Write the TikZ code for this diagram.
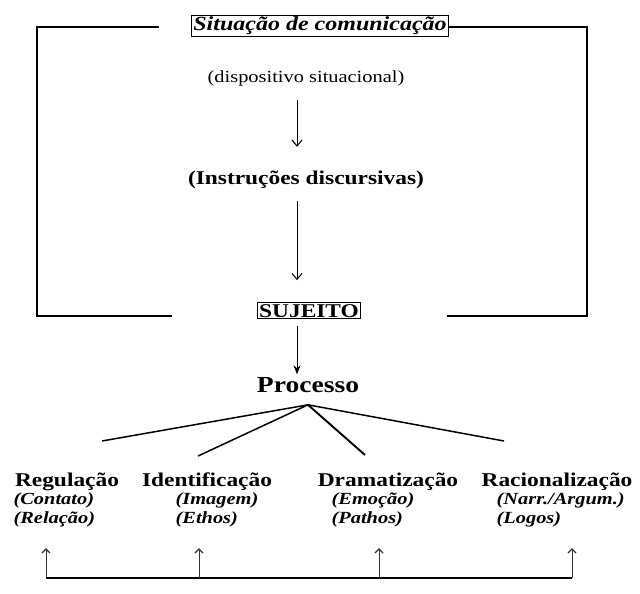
\documentclass[tikz,border=0pt]{standalone}
\usepackage{fontspec}
\setmainfont{Liberation Serif}[FakeStretch=1.2]
\usetikzlibrary{arrows.meta, positioning}

\newcommand{\tam}[1]{\fontsize{#1}{#1}\selectfont}

\begin{document}
\begin{tikzpicture}[x=1pt, y=-1pt, line width=1.2pt]

        \tikzstyle{caixa}=[draw, line width=0.9pt, inner sep=1.5pt]
        \tikzstyle{cat}=[font=\tam{19.5}\bfseries, anchor=base, inner sep=0pt]
        \tikzstyle{sub}=[font=\tam{17}\bfseries\itshape, anchor=base west, inner sep=0pt]
        \tikzstyle{seta}=[-{Straight Barb[length=6pt,width=10pt]}, line width=1pt]
        \tikzstyle{leque}=[line width=1.5pt]
        \tikzstyle{retorno}=[-{Straight Barb[length=4pt,width=8pt,line width=1.2pt]}, line width=0.6pt, black!80, shorten >=21pt]

        \useasboundingbox (0,0) rectangle (640,594);

        % coluna central
        \node[caixa, font=\tam{20}\bfseries\itshape, anchor=base] (sit) at (320,31) {Situação de comunicação};
        \node[font=\tam{17}, anchor=base, inner sep=0pt] (disp) at (306,83) {(dispositivo situacional)};
        \node[font=\tam{19.5}\bfseries, anchor=base, inner sep=0pt] (instr) at (306,184) {(Instruções discursivas)};
        \node[caixa, font=\tam{19.5}\bfseries, anchor=base] (suj) at (309,317) {SUJEITO};
        \node[font=\tam{23}\bfseries, anchor=base, inner sep=0pt] (proc) at (308,392) {Processo};

        \coordinate (eixo) at (297,0);
        \draw[seta, shorten <=13pt, shorten >=23pt] (disp.south -| eixo) -- (instr.north -| eixo);
        \draw[seta, shorten <=12pt, shorten >=22pt] (instr.south -| eixo) -- (suj.north -| eixo);
        \draw[-{Stealth[length=9pt,width=7pt]}, line width=1pt, shorten <=7pt, shorten >=2pt] (suj.south -| eixo) -- (proc.north -| eixo);

        % moldura
        \coordinate (ce) at (37,27);
        \coordinate (cd) at (587,27);
        \coordinate (be) at (37,316);
        \coordinate (bd) at (587,316);
        \coordinate (fe) at (159,27);
        \coordinate (fbe) at (172,316);
        \coordinate (fbd) at (447,316);
        \draw (fe) -- (ce) -- (be) -- (fbe);
        \draw (sit.east |- cd) -- (cd) -- (bd) -- (fbd);

        % categorias
        \node[cat] (reg) at (67,486) {Regulação};
        \node[cat] (ide) at (207,486) {Identificação};
        \node[cat] (dra) at (388,486) {Dramatização};
        \node[cat] (rac) at (557,486) {Racionalização};

        \node[sub] (con) at (13,504) {(Contato)};
        \node[sub] (rel) at (13,523) {(Relação)};
        \node[sub] (ima) at (175,504) {(Imagem)};
        \node[sub] (eth) at (175,523) {(Ethos)};
        \node[sub] (emo) at (331,504) {(Emoção)};
        \node[sub] (pat) at (331,523) {(Pathos)};
        \node[sub] (nar) at (496,504) {(Narr./Argum.)};
        \node[sub] (log) at (496,523) {(Logos)};

        % leque
        \coordinate[below=12pt of proc.south] (topo);
        \coordinate (f1) at (102,441);
        \coordinate (f2) at (198,456);
        \coordinate (f3) at (365,455);
        \coordinate (f4) at (504,441);
        \foreach \f in {f1,f2,f4}
            \draw[leque] (topo) -- (\f);
        \draw[leque, line width=1.9pt] (topo) -- (f3);

        % retorno
        \coordinate (b1) at (46,578);
        \coordinate (b2) at (199,578);
        \coordinate (b3) at (379,578);
        \coordinate (b4) at (572,578);
        \draw[line width=1.3pt] (b1) -- (b4);
        \foreach \i/\n in {1/rel,2/eth,3/pat,4/log}
            \draw[retorno] (b\i) -- (b\i |- \n.south);

\end{tikzpicture}
\end{document}
